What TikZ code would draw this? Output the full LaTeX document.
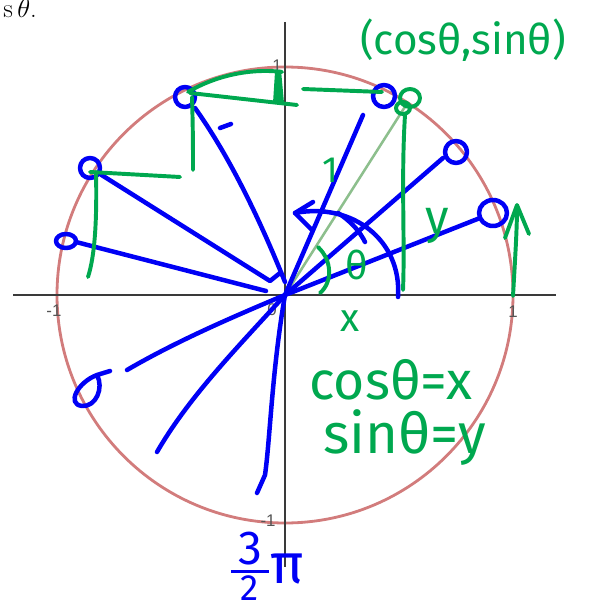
\RequirePackage{fix-cm}
\documentclass[tikz,border=0pt]{standalone}
\usepackage{fontspec}
\usepackage{xcolor}
\usepackage{tikz}
\newfontfamily\handfont{Fira Sans}
\newfontfamily\tickfont{Liberation Sans}
\definecolor{ucblue}{HTML}{0000F5}
\definecolor{ucgreen}{HTML}{00A84F}
\definecolor{ucpale}{HTML}{8DBF8D}
\definecolor{ucred}{HTML}{D27C7C}
\definecolor{ucaxis}{HTML}{3A3A3A}
\definecolor{uctick}{HTML}{555555}

\begin{document}
\begin{tikzpicture}[x=0.025cm, y=-0.025cm,
  ink/.style={draw=ucblue, line width=3.2pt, line cap=round, line join=round},
  pen/.style={draw=ucgreen, line width=2.8pt, line cap=round, line join=round},
  hand/.style={text=ucgreen, inner sep=0pt, font=\handfont\fontsize{#1}{#1}\selectfont},
  tick/.style={text=uctick, inner sep=0pt, font=\tickfont\fontsize{12}{12}\selectfont}]
  \useasboundingbox (0,0) rectangle (606,609);
  \coordinate (O) at (285,295);
  \node[anchor=base west, inner sep=0pt, font=\fontsize{19}{19}\selectfont] (cap) at (3,18) {$\mathrm{s}\,\theta$.};
  \draw[draw=ucred, line width=2pt] (O) circle[radius=228];
  \draw[ucaxis, line width=1.4pt] (13,295) -- (556,295);
  \draw[ucaxis, line width=1.4pt] (285,22) -- (285,567);
  \node[tick] (ty1) at (277,66) {1};
  \node[tick] (tx0) at (54,311) {-1};
  \node[tick] (t0) at (272,310) {0};
  \node[tick] (tx1) at (513,312) {1};
  \node[tick] (ty0) at (268,521) {-1};
  \coordinate (P) at (408,102);
  \draw[ucpale, line width=1.8pt] (O) -- (P);
  \draw[ink] (185,97) circle[radius=10];
  \draw[ink] (195,108) .. controls (232,160) and (262,225) .. (285,282);
  \draw[ink] (220,128) -- (231,124);
  \draw[ink] (90,168) circle[radius=10];
  \draw[ink] (100,174) -- (270,281) -- (280,273);
  \draw[ink] (66,241) ellipse[x radius=10, y radius=7];
  \draw[ink] (76,242) -- (266,291);
  \draw[ink] (384,96) circle[radius=11];
  \draw[ink] (363,115) -- (O);
  \draw[ink] (456,152) circle[radius=11];
  \draw[ink] (O) -- (443,158);
  \draw[ink] (493,213) ellipse[x radius=14, y radius=13];
  \draw[ink] (O) -- (480,218);
  \draw[ink] (398,297) .. controls (402,240) and (352,202) .. (295,213);
  \draw[ink] (313,202) -- (295,213) -- (312,230);
  \draw[ink] (338,213) .. controls (352,222) and (360,232) .. (365,242);
  \draw[ink] (O) .. controls (230,318) and (175,342) .. (127,370);
  \draw[ink] (110,371) -- (97,375) .. controls (78,382) and (66,404) .. (82,406) .. controls (96,407) and (104,388) .. (97,375);
  \draw[ink] (O) .. controls (240,345) and (190,395) .. (157,452);
  \draw[ink] (O) .. controls (272,370) and (270,440) .. (265,475) -- (257,493);
  \node[text=ucblue, inner sep=0pt, anchor=base west, font=\handfont\fontsize{34}{34}\selectfont] (frac) at (229,583) {${\hbox{\kern5pt 3\kern5pt}\above 2.2pt \hbox{\fontsize{26}{26}\selectfont 2}}\hbox{\fontsize{40}{40}\selectfont π}$};
  \draw[pen] (188,92) .. controls (215,76) and (250,68) .. (282,72);
  \fill[ucgreen] (275,72) -- (281,70) -- (284,103) -- (273,103) -- cycle;
  \draw[pen] (190,93) -- (297,105);
  \draw[pen] (192,97) .. controls (193,130) and (193,150) .. (193,170);
  \draw[pen] (303,89) -- (382,92);
  \draw[pen] (410,98) ellipse[x radius=10, y radius=9];
  \draw[pen] (403,108) ellipse[x radius=7, y radius=6];
  \draw[pen] (405,115) .. controls (401,180) and (405,240) .. (403,290);
  \draw[pen] (90,172) -- (180,177);
  \draw[pen] (96,172) .. controls (97,220) and (95,255) .. (88,277);
  \draw[pen] (318,247) .. controls (332,260) and (333,282) .. (320,293);
  \draw[pen] (513,296) .. controls (515,260) and (517,230) .. (517,207);
  \draw[pen] (505,238) -- (517,205) -- (529,234);
  \node[hand=30] (pt) at (463,40) {(cosθ,sinθ)};
  \node[hand=26] (one) at (330,170) {1};
  \node[hand=34] (ylab) at (437,226) {y};
  \node[hand=28] (th) at (357,265) {θ};
  \node[hand=28] (xlab) at (350,321) {x};
  \node[hand=38] (cosx) at (391,380) {cosθ=x};
  \node[hand=40] (siny) at (405,438) {sinθ=y};
\end{tikzpicture}
\end{document}
